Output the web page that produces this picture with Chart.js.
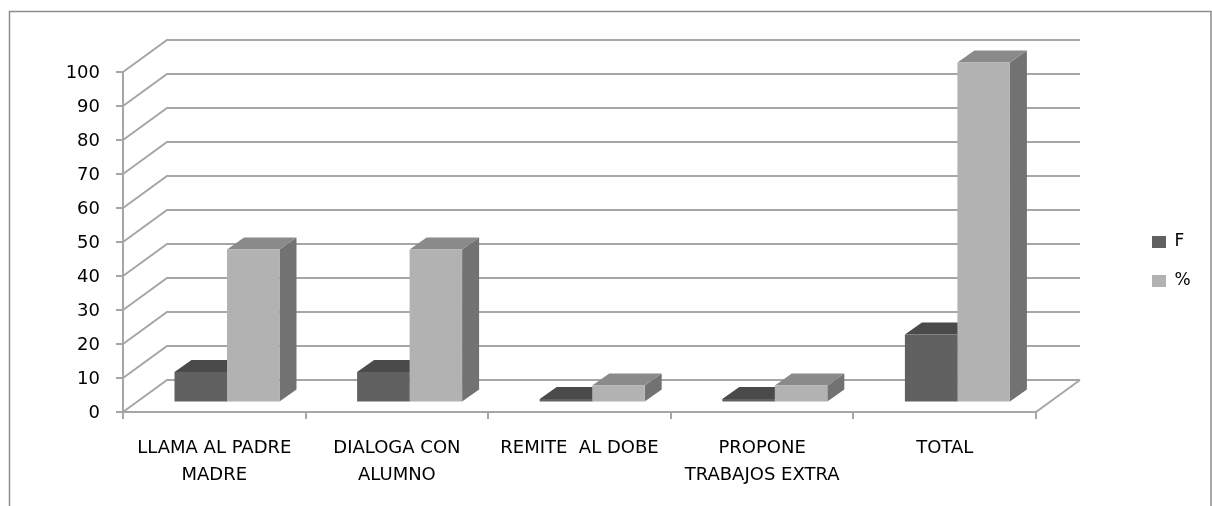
<!DOCTYPE html>
<html>
<head>
<meta charset="utf-8">
<style>html,body{margin:0;padding:0;background:#fff}canvas{display:block;filter:blur(0.4px)}</style>
<script src="https://cdn.jsdelivr.net/npm/chart.js@4"></script>
</head>
<body>
<canvas id="c" width="1212" height="506"></canvas>
<script>
const categories = [["LLAMA AL PADRE","MADRE"],["DIALOGA CON","ALUMNO"],"REMITE  AL DOBE",["PROPONE","TRABAJOS EXTRA"],"TOTAL"];
const seriesF = [9,9,1,1,20];
const seriesPct = [45,45,5,5,100];
const seriesNames = ["F","%"];

const FONT = "'DejaVu Sans', sans-serif";
const GRID = '#a6a6a6';
const WALL = {dx:44, dy:-32};
const SHIFT = {dx:12.7, dy:-9.5};
const DEPTH = {dx:17, dy:-12};
const FACES = [{top:'#4a4a4a', side:'#4f4f4f'},{top:'#8a8a8a', side:'#727272'}];

const scene = {
  id:'scene',
  beforeDraw(chart){
    const c = chart.ctx;
    c.save();
    c.fillStyle='#fff'; c.fillRect(0,0,1212,506);
    c.strokeStyle='#8c8c8c'; c.lineWidth=1.5;
    c.beginPath(); c.moveTo(9.5,506); c.lineTo(9.5,11.5); c.lineTo(1211,11.5); c.lineTo(1211,506); c.stroke();
    c.restore();
  },
  afterLayout(chart){
    const l = chart.legend;
    const w = l.width, h = l.height;
    l.left = 1152 - l.options.labels.padding;
    l.right = l.left + w;
    l.top = 233.5 - l.options.labels.padding;
    l.bottom = l.top + h + 60;
  },
  beforeDatasetsDraw(chart){
    const c = chart.ctx, y = chart.scales.y, a = chart.chartArea;
    c.save();
    c.strokeStyle = GRID; c.lineWidth = 2;
    y.ticks.forEach(t=>{
      const py = y.getPixelForValue(t.value);
      c.beginPath();
      c.moveTo(a.left,py);
      c.lineTo(a.left+WALL.dx,py+WALL.dy);
      c.lineTo(a.right+WALL.dx,py+WALL.dy);
      c.stroke();
    });
    const p0 = y.getPixelForValue(0);
    c.beginPath();
    c.moveTo(a.right,p0);
    c.lineTo(a.right+WALL.dx,p0+WALL.dy);
    c.stroke();
    c.restore();

    c.save();
    c.translate(SHIFT.dx,SHIFT.dy);
    chart.data.datasets.forEach((ds,i)=>{
      chart.getDatasetMeta(i).data.forEach(b=>{
        const l=b.x-b.width/2, r=b.x+b.width/2, t=b.y, bt=b.base;
        c.fillStyle=FACES[i].side;
        c.beginPath();
        c.moveTo(r,t); c.lineTo(r+DEPTH.dx,t+DEPTH.dy); c.lineTo(r+DEPTH.dx,bt+DEPTH.dy); c.lineTo(r,bt);
        c.closePath(); c.fill();
        c.fillStyle=FACES[i].top;
        c.beginPath();
        c.moveTo(l,t); c.lineTo(l+DEPTH.dx,t+DEPTH.dy); c.lineTo(r+DEPTH.dx,t+DEPTH.dy); c.lineTo(r,t);
        c.closePath(); c.fill();
      });
    });
    c.restore();
    c.save();
    c.translate(SHIFT.dx,SHIFT.dy);
  },
  afterDatasetsDraw(chart){ chart.ctx.restore(); }
};

new Chart(document.getElementById('c'),{
  type:'bar',
  plugins:[scene],
  data:{
    labels:categories,
    datasets:[
      {label:seriesNames[0],data:seriesF,backgroundColor:'#616161',clip:false},
      {label:seriesNames[1],data:seriesPct,backgroundColor:'#b2b2b2',clip:false}
    ]
  },
  options:{
    responsive:false,
    animation:false,
    events:[],
    clip:false,
    layout:{padding:{left:63,top:72,right:176,bottom:0}},
    datasets:{bar:{categoryPercentage:0.575,barPercentage:1}},
    plugins:{
      tooltip:{enabled:false},
      title:{display:false},
      legend:{
        position:'chartArea',
        align:'start',
        labels:{boxWidth:14,boxHeight:12,padding:22,color:'#000',font:{family:FONT,size:17}}
      }
    },
    scales:{
      x:{
        grid:{display:true,drawOnChartArea:false,drawTicks:true,tickLength:7,color:GRID,offset:true,lineWidth:2},
        border:{color:GRID,width:2},
        ticks:{color:'#000',maxRotation:0,autoSkip:false,padding:16,font:{family:FONT,size:18,lineHeight:'27px'}},
        afterFit(s){s.height=94;}
      },
      y:{
        min:0,max:100,
        grid:{display:true,drawOnChartArea:false,drawTicks:true,tickLength:7,color:GRID,lineWidth:2},
        border:{color:GRID,width:2},
        ticks:{stepSize:10,color:'#000',padding:16,labelOffset:1.5,font:{family:FONT,size:18}},
        afterFit(s){s.width=60;}
      }
    }
  }
});
</script>
</body>
</html>
